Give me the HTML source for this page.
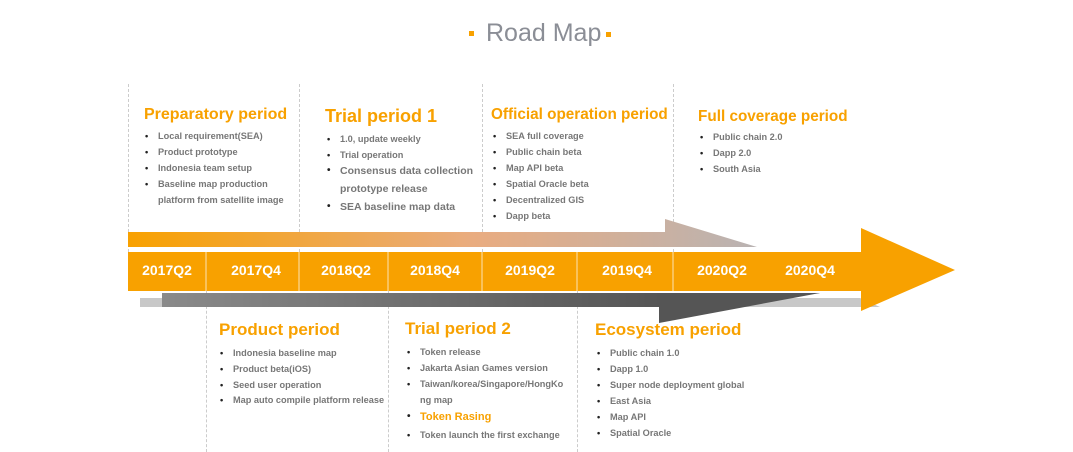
<!DOCTYPE html>
<html><head><style>
body{margin:0;width:1073px;height:452px;background:#fff;position:relative;overflow:hidden;font-family:"Liberation Sans",Arial,sans-serif}
.a{position:absolute;white-space:nowrap}
.h{position:absolute;color:#f8a100;font-weight:bold;font-size:16px;white-space:nowrap;line-height:20px}
.b{position:absolute;color:#777;font-weight:bold;font-size:9.2px;line-height:14px;white-space:nowrap}
.b:before{content:"•";position:absolute;left:-13px;color:#222}
.l{position:absolute;color:#777;font-weight:bold;font-size:10.5px;line-height:14px;white-space:nowrap}
.l:before{content:"•";position:absolute;left:-13px;color:#222;font-size:10px}
.nb:before{content:none!important}
.y{position:absolute;color:#fff;font-weight:bold;font-size:14px;line-height:16px;top:262px;transform:translateX(-50%)}
.dv{position:absolute;border-left:1px dashed #ccc;width:0}
</style></head><body>
<div class="a" style="left:486px;top:19px;font-size:25px;color:#8b8e96">Road Map</div>
<div class="a" style="left:469px;top:31px;width:5px;height:5px;background:#f8a100"></div>
<div class="a" style="left:606px;top:32px;width:5px;height:5px;background:#f8a100"></div>

<div class="dv" style="left:128px;top:84px;height:168px"></div>
<div class="dv" style="left:299px;top:84px;height:168px"></div>
<div class="dv" style="left:482px;top:84px;height:168px"></div>
<div class="dv" style="left:673px;top:84px;height:168px"></div>
<div class="dv" style="left:206px;top:291px;height:161px"></div>
<div class="dv" style="left:388px;top:291px;height:161px"></div>
<div class="dv" style="left:577px;top:291px;height:161px"></div>

<svg class="a" style="left:0;top:0" width="1073" height="452">
<defs>
<linearGradient id="g1" x1="128" x2="757" gradientUnits="userSpaceOnUse"><stop offset="0" stop-color="#f8a100"/><stop offset="0.55" stop-color="#e9ac80"/><stop offset="1" stop-color="#b9b3b3"/></linearGradient>
<linearGradient id="g2" x1="162" x2="820" gradientUnits="userSpaceOnUse"><stop offset="0" stop-color="#8a8a8a"/><stop offset="1" stop-color="#444"/></linearGradient>
</defs>
<polygon points="140,298 860,298 880,307 140,307" fill="#c8c8c8"/>
<polygon points="162,293 820,293 659,306 659,322 659,307 162,307" fill="url(#g2)"/>
<polygon points="659,293 820,293 659,323" fill="#555"/>
<polygon points="128,232 665,232 665,219 757,247 128,247" fill="url(#g1)"/>
<polygon points="128,252 861,252 861,228 955,270 861,311 861,291 128,291" fill="#f8a100"/>
<g stroke="#fff" stroke-opacity="0.7" stroke-width="1">
<line x1="206" y1="252" x2="206" y2="291"/><line x1="299" y1="252" x2="299" y2="291"/><line x1="388" y1="252" x2="388" y2="291"/><line x1="482" y1="252" x2="482" y2="291"/><line x1="577" y1="252" x2="577" y2="291"/><line x1="673" y1="252" x2="673" y2="291"/>
</g>
</svg>
<div class="y" style="left:167px">2017Q2</div>
<div class="y" style="left:256px">2017Q4</div>
<div class="y" style="left:346px">2018Q2</div>
<div class="y" style="left:435px">2018Q4</div>
<div class="y" style="left:530px">2019Q2</div>
<div class="y" style="left:627px">2019Q4</div>
<div class="y" style="left:722px">2020Q2</div>
<div class="y" style="left:810px">2020Q4</div>

<div class="h" style="left:144px;top:105px">Preparatory period</div>
<div class="b" style="left:158px;top:129px">Local requirement(SEA)</div>
<div class="b" style="left:158px;top:145px">Product prototype</div>
<div class="b" style="left:158px;top:161px">Indonesia team setup</div>
<div class="b" style="left:158px;top:177px">Baseline map production</div>
<div class="b nb" style="left:158px;top:193px">platform from satellite image</div>

<div class="h" style="left:325px;top:106px;font-size:18px">Trial period 1</div>
<div class="b" style="left:340px;top:132px">1.0, update weekly</div>
<div class="b" style="left:340px;top:148px">Trial operation</div>
<div class="l" style="left:340px;top:164px">Consensus data collection</div>
<div class="l nb" style="left:340px;top:182px">prototype release</div>
<div class="l" style="left:340px;top:200px">SEA baseline map data</div>

<div class="h" style="left:491px;top:105px;font-size:15.3px">Official operation period</div>
<div class="b" style="left:506px;top:129px">SEA full coverage</div>
<div class="b" style="left:506px;top:145px">Public chain beta</div>
<div class="b" style="left:506px;top:161px">Map API beta</div>
<div class="b" style="left:506px;top:177px">Spatial Oracle beta</div>
<div class="b" style="left:506px;top:193px">Decentralized GIS</div>
<div class="b" style="left:506px;top:209px">Dapp beta</div>

<div class="h" style="left:698px;top:107px;font-size:15.3px">Full coverage period</div>
<div class="b" style="left:713px;top:130px">Public chain 2.0</div>
<div class="b" style="left:713px;top:146px">Dapp 2.0</div>
<div class="b" style="left:713px;top:162px">South Asia</div>

<div class="h" style="left:219px;top:320px;font-size:17px">Product period</div>
<div class="b" style="left:233px;top:346px">Indonesia baseline map</div>
<div class="b" style="left:233px;top:362px">Product beta(iOS)</div>
<div class="b" style="left:233px;top:378px">Seed user operation</div>
<div class="b" style="left:233px;top:393px">Map auto compile platform release</div>

<div class="h" style="left:405px;top:319px;font-size:17px">Trial period 2</div>
<div class="b" style="left:420px;top:345px">Token release</div>
<div class="b" style="left:420px;top:361px">Jakarta Asian Games version</div>
<div class="b" style="left:420px;top:377px">Taiwan/korea/Singapore/HongKo</div>
<div class="b nb" style="left:420px;top:393px">ng map</div>
<div class="l" style="left:420px;top:410px;color:#f8a100;font-size:11px">Token Rasing</div>
<div class="b" style="left:420px;top:428px">Token launch the first exchange</div>

<div class="h" style="left:595px;top:320px;font-size:17px">Ecosystem period</div>
<div class="b" style="left:610px;top:346px">Public chain 1.0</div>
<div class="b" style="left:610px;top:362px">Dapp 1.0</div>
<div class="b" style="left:610px;top:378px">Super node deployment global</div>
<div class="b" style="left:610px;top:394px">East Asia</div>
<div class="b" style="left:610px;top:410px">Map API</div>
<div class="b" style="left:610px;top:426px">Spatial Oracle</div>
</body></html>
